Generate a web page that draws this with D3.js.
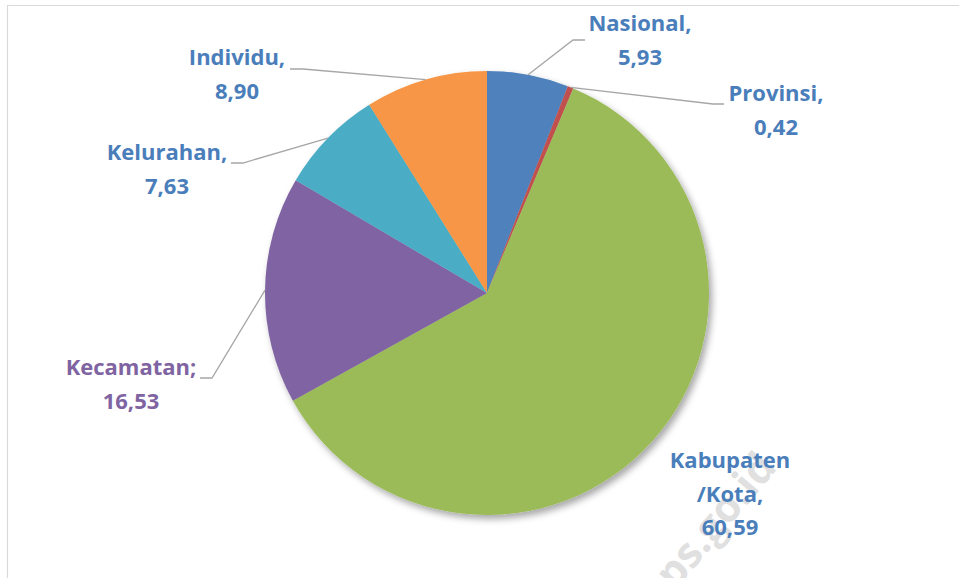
<!DOCTYPE html>
<html>
<head>
<meta charset="utf-8">
<script src="https://cdn.jsdelivr.net/npm/d3@7/dist/d3.min.js"></script>
<style>
  body { margin: 0; background: #fff; }
  svg { display: block; }
  .lbl { font-family: "Open Sans", "Noto Sans", sans-serif; font-weight: bold; font-size: 22px; }
  .leader { fill: none; stroke: #a6a6a6; stroke-width: 1.3; }
</style>
</head>
<body>
<div id="chart"></div>
<script>
// Slice data, clockwise from 12 o'clock
var categories = ["Nasional", "Provinsi", "Kabupaten/Kota", "Kecamatan", "Kelurahan", "Individu"];
var values = [5.93, 0.42, 60.59, 16.53, 7.63, 8.90];
var colors = ["#4f81bd", "#c0504d", "#9bbb59", "#8064a2", "#4bacc6", "#f79646"];

// Label text lines (as shown on the chart)
var labelLines = [
    ["Nasional,", "5,93"],
    ["Provinsi,", "0,42"],
    ["Kabupaten", "/Kota,", "60,59"],
    ["Kecamatan;", "16,53"],
    ["Kelurahan,", "7,63"],
    ["Individu,", "8,90"]
];
var labelColors = ["#4a7ebb", "#4a7ebb", "#4a7ebb", "#8064a2", "#4a7ebb", "#4a7ebb"];

// Layout of labels: centre x, first baseline y, leader elbow (null = no leader)
var labelLayout = [
    { x: 640, y: 31, elbow: [[573, 40], [585, 40]] },
    { x: 776, y: 101, elbow: [[713, 104], [724, 104]] },
    { x: 730, y: 468, elbow: null },
    { x: 131, y: 375, elbow: [[212, 378], [200, 378]] },
    { x: 167, y: 160, elbow: [[243, 163], [231, 163]] },
    { x: 237, y: 65, elbow: [[303, 69], [290, 69]] }
];
var lineGap = 33.5;

var svgWidth = 959;
var svgHeight = 578;
var cx = 487, cy = 293, radius = 222;

var svg = d3.select("#chart").append("svg")
    .attr("width", svgWidth)
    .attr("height", svgHeight);

// Soft shadow like the original
var defs = svg.append("defs");
var filter = defs.append("filter")
    .attr("id", "shadow")
    .attr("x", "-20%").attr("y", "-20%")
    .attr("width", "140%").attr("height", "140%");
filter.append("feDropShadow")
    .attr("dx", 3).attr("dy", 4)
    .attr("stdDeviation", 3.5)
    .attr("flood-color", "#000")
    .attr("flood-opacity", 0.35);

// Chart border (top and left edges visible)
svg.append("line")
    .attr("x1", 7).attr("y1", 5.5).attr("x2", 959).attr("y2", 5.5)
    .attr("stroke", "#d9d9d9").attr("stroke-width", 1.2);
svg.append("line")
    .attr("x1", 7.5).attr("y1", 5).attr("x2", 7.5).attr("y2", 578)
    .attr("stroke", "#d9d9d9").attr("stroke-width", 1.2);

// Watermark (only its tail shows inside the frame)
svg.append("text")
    .attr("transform", "translate(778,468) rotate(-50)")
    .attr("text-anchor", "end")
    .attr("font-family", "Open Sans, sans-serif")
    .attr("font-weight", "bold")
    .attr("font-size", 42)
    .attr("fill", "#e0e0e0")
    .text("bps.go.id");

var pie = d3.pie().sort(null).value(function (d) { return d; });
var arcs = pie(values);

var arc = d3.arc().innerRadius(0).outerRadius(radius);
var edgeArc = d3.arc().innerRadius(radius).outerRadius(radius);

var g = svg.append("g")
    .attr("transform", "translate(" + cx + "," + cy + ")");

g.append("g")
    .attr("filter", "url(#shadow)")
    .selectAll("path")
    .data(arcs)
    .enter().append("path")
    .attr("d", arc)
    .attr("fill", function (d, i) { return colors[i]; });

// Leader lines
arcs.forEach(function (d, i) {
    var lay = labelLayout[i];
    if (!lay.elbow) return;
    var p = edgeArc.centroid(d);
    var pts = [[cx + p[0], cy + p[1]]].concat(lay.elbow);
    svg.append("path")
        .attr("class", "leader")
        .attr("d", d3.line()(pts));
});

// Labels
labelLines.forEach(function (lines, i) {
    var lay = labelLayout[i];
    var t = svg.append("text")
        .attr("class", "lbl")
        .attr("text-anchor", "middle")
        .attr("fill", labelColors[i]);
    lines.forEach(function (s, j) {
        t.append("tspan")
            .attr("x", lay.x)
            .attr("y", lay.y + j * lineGap)
            .text(s);
    });
});
</script>
</body>
</html>
